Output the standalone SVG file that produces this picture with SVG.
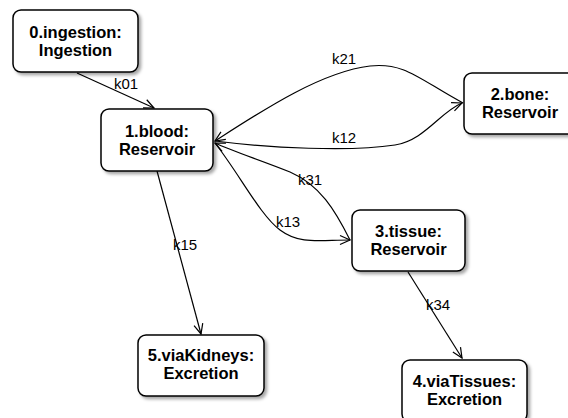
<svg xmlns="http://www.w3.org/2000/svg" width="568" height="418" viewBox="0 0 568 418">
<style>
.box{fill:#fff;stroke:#000;stroke-width:1.5;filter:url(#sh)}
.nt{font-family:"Liberation Sans",Arial,sans-serif;font-weight:bold;font-size:16.5px;text-anchor:middle;fill:#000}
.lb{font-family:"Liberation Sans",Arial,sans-serif;font-size:15px;text-anchor:middle;fill:#000}
.ed{fill:none;stroke:#000;stroke-width:1.2;marker-end:url(#ah)}
</style>
<defs>
<filter id="sh" x="-10%" y="-10%" width="130%" height="130%">
<feDropShadow dx="2.5" dy="2.5" stdDeviation="1.5" flood-color="#000" flood-opacity="0.35"/>
</filter>
<marker id="ah" viewBox="-11 -6 13 12" refX="0" refY="0" markerWidth="13" markerHeight="12" markerUnits="userSpaceOnUse" orient="auto">
<path d="M-10,-4.5 L0,0 L-10,4.5" fill="none" stroke="#000" stroke-width="1.2"/>
</marker>
</defs>
<g id="connectors">
<path class="ed" d="M77,73 L154,108"/>
<path class="ed" d="M463,103 C420,80 405,62 370,66 C320,72 260,112 215,141"/>
<path class="ed" d="M215,141 C270,148 350,152 395,145 C425,140 440,112 462,103"/>
<path class="ed" d="M350,240 C335,210 320,185 290,172 C260,160 232,151 215,143"/>
<path class="ed" d="M215,143 C240,175 260,215 280,230 C300,245 320,240 350,240"/>
<path class="ed" d="M157,171 L201,334"/>
<path class="ed" d="M408,272 L462,358"/>
<text class="lb" x="126" y="89">k01</text>
<text class="lb" x="344" y="64">k21</text>
<text class="lb" x="344" y="143">k12</text>
<text class="lb" x="310" y="185">k31</text>
<text class="lb" x="288" y="227">k13</text>
<text class="lb" x="185" y="250">k15</text>
<text class="lb" x="438" y="310">k34</text>
</g>
<g id="n0"><rect class="box" x="13" y="10" width="125" height="62" rx="8"/><text class="nt" x="75.5" y="38">0.ingestion:</text><text class="nt" x="75.5" y="56">Ingestion</text></g>
<g id="n1"><rect class="box" x="101" y="109" width="112" height="62" rx="8"/><text class="nt" x="157" y="137">1.blood:</text><text class="nt" x="157" y="155">Reservoir</text></g>
<g id="n2"><rect class="box" x="464" y="73" width="113" height="61" rx="8"/><text class="nt" x="520" y="100">2.bone:</text><text class="nt" x="520" y="118">Reservoir</text></g>
<g id="n3"><rect class="box" x="352" y="210" width="113" height="61" rx="8"/><text class="nt" x="408.5" y="237">3.tissue:</text><text class="nt" x="408.5" y="255">Reservoir</text></g>
<g id="n4"><rect class="box" x="402" y="360" width="125" height="62" rx="8"/><text class="nt" x="464.5" y="387">4.viaTissues:</text><text class="nt" x="464.5" y="405">Excretion</text></g>
<g id="n5"><rect class="box" x="138" y="335" width="126" height="61" rx="8"/><text class="nt" x="201" y="361">5.viaKidneys:</text><text class="nt" x="201" y="379">Excretion</text></g>
</svg>
